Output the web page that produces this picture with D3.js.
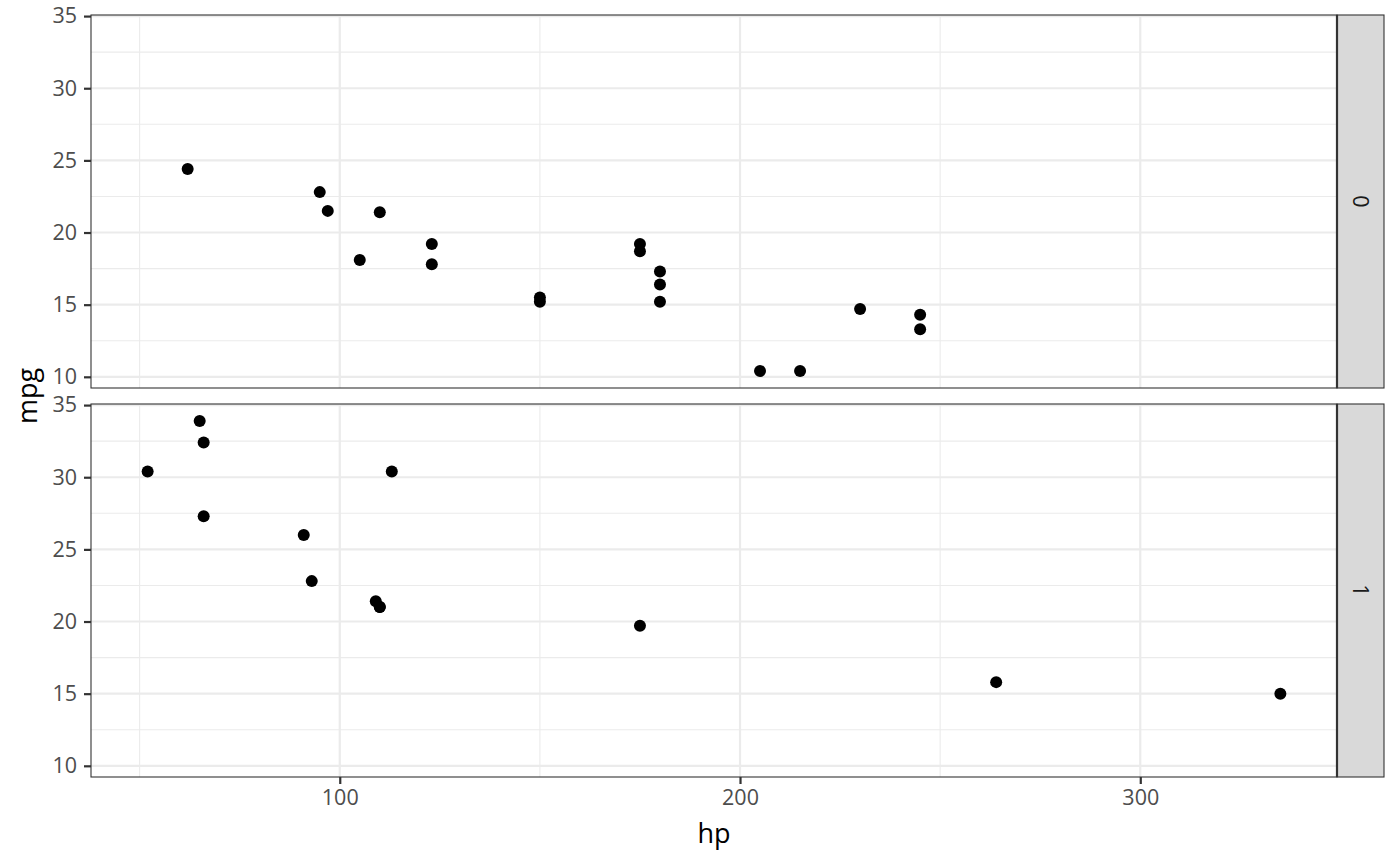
<!DOCTYPE html>
<html><head><meta charset="utf-8">
<script src="https://cdn.jsdelivr.net/npm/d3@7"></script>
<style>body{margin:0;background:#fff}svg text{font-family:"Open Sans",sans-serif}</style>
</head><body><svg id="c" width="1400" height="866"></svg>
<script>
const hp  = [110,110,93,110,175,105,245,62,95,123,123,180,180,180,205,215,230,66,52,65,97,150,150,245,175,66,91,113,264,175,335,109];
const mpg = [21,21,22.8,21.4,18.7,18.1,14.3,24.4,22.8,19.2,17.8,16.4,17.3,15.2,10.4,10.4,14.7,32.4,30.4,33.9,21.5,15.5,15.2,13.3,19.2,27.3,26,30.4,15.8,19.7,15,21.4];
const am  = [1,1,1,0,0,0,0,0,0,0,0,0,0,0,0,0,0,1,1,1,0,0,0,0,0,1,1,1,1,1,1,1];
const facets = [0,1];
const xTicks = [100,200,300];
const xMinor = [50,150,250];
const yTicks = [10,15,20,25,30,35];
const yMinor = [12.5,17.5,22.5,27.5,32.5];

const svg = d3.select("#c");
const L=91, R=1337, SW=47;
const panels=[{top:15,bot:388},{top:404,bot:777}];
const xr=d3.extent(hp), xe=(xr[1]-xr[0])*0.05;
const yr=d3.extent(mpg), ye=(yr[1]-yr[0])*0.05;
const x=d3.scaleLinear().domain([xr[0]-xe,xr[1]+xe]).range([L,R]);
const TS=21.5;

facets.forEach((f,i)=>{
  const p=panels[i];
  const y=d3.scaleLinear().domain([yr[0]-ye,yr[1]+ye]).range([p.bot,p.top]);
  const g=svg.append("g");
  g.append("rect").attr("x",L).attr("y",p.top).attr("width",R-L).attr("height",p.bot-p.top).attr("fill","#fff");
  g.selectAll(".xm").data(xMinor).join("line").attr("x1",d=>x(d)).attr("x2",d=>x(d)).attr("y1",p.top).attr("y2",p.bot).attr("stroke","#EBEBEB").attr("stroke-width",1.1);
  g.selectAll(".ym").data(yMinor).join("line").attr("y1",d=>y(d)).attr("y2",d=>y(d)).attr("x1",L).attr("x2",R).attr("stroke","#EBEBEB").attr("stroke-width",1.1);
  g.selectAll(".xM").data(xTicks).join("line").attr("x1",d=>x(d)).attr("x2",d=>x(d)).attr("y1",p.top).attr("y2",p.bot).attr("stroke","#EBEBEB").attr("stroke-width",2.2);
  g.selectAll(".yM").data(yTicks).join("line").attr("y1",d=>y(d)).attr("y2",d=>y(d)).attr("x1",L).attr("x2",R).attr("stroke","#EBEBEB").attr("stroke-width",2.2);
  const idx=d3.range(hp.length).filter(k=>am[k]===f);
  g.selectAll("circle").data(idx).join("circle").attr("cx",k=>x(hp[k])).attr("cy",k=>y(mpg[k])).attr("r",6).attr("fill","#000");
  g.append("rect").attr("x",L).attr("y",p.top).attr("width",R-L).attr("height",p.bot-p.top).attr("fill","none").attr("stroke","#333").attr("stroke-width",1.1);
  // strip
  g.append("rect").attr("x",R).attr("y",p.top).attr("width",SW).attr("height",p.bot-p.top).attr("fill","#D9D9D9").attr("stroke","#333").attr("stroke-width",1.1);
  g.append("line").attr("x1",R).attr("x2",R).attr("y1",p.top).attr("y2",p.bot).attr("stroke","#333").attr("stroke-width",2.2);
  g.append("text").attr("transform",`translate(${R+SW/2},${(p.top+p.bot)/2}) rotate(90)`).attr("text-anchor","middle").attr("dy","0.36em").attr("font-size",TS).attr("fill","#1A1A1A").text(f);
  // y axis
  const ya=d3.axisLeft(y).tickValues(yTicks).tickSize(7).tickPadding(7);
  const ag=g.append("g").attr("transform",`translate(${L},0)`).call(ya);
  ag.select(".domain").remove();
  ag.selectAll(".tick line").attr("stroke","#333").attr("stroke-width",2.2);
  ag.selectAll(".tick text").attr("font-size",TS).attr("fill","#4D4D4D").attr("font-family","Open Sans");
});
const xa=d3.axisBottom(x).tickValues(xTicks).tickSize(7).tickPadding(6);
const xg=svg.append("g").attr("transform",`translate(0,${panels[1].bot})`).call(xa);
xg.select(".domain").remove();
xg.selectAll(".tick line").attr("stroke","#333").attr("stroke-width",2.2);
xg.selectAll(".tick text").attr("font-size",TS).attr("fill","#4D4D4D").attr("font-family","Open Sans");
svg.append("text").attr("x",(L+R)/2).attr("y",843).attr("text-anchor","middle").attr("font-size",27).attr("fill","#000").text("hp");
svg.append("text").attr("transform",`translate(37,${(panels[0].top+panels[1].bot)/2}) rotate(-90)`).attr("text-anchor","middle").attr("font-size",27).attr("fill","#000").text("mpg");
</script></body></html>
